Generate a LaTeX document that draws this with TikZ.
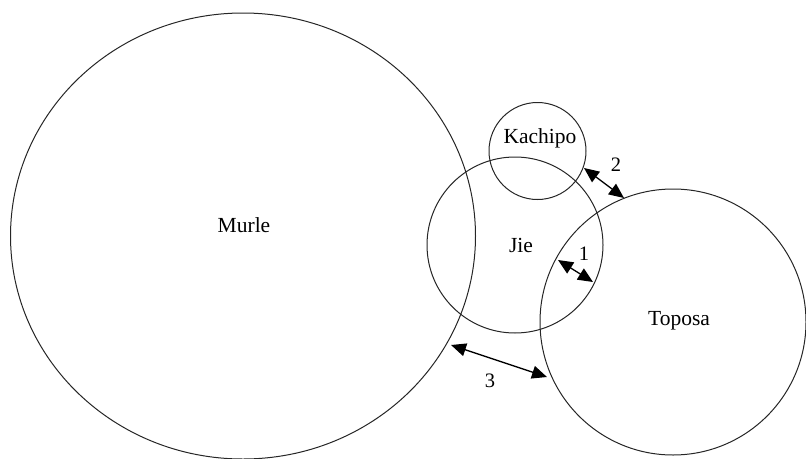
\documentclass[tikz,border=0pt]{standalone}
\usepackage{fontspec}
\setmainfont{Liberation Serif}
\usetikzlibrary{arrows.meta,shapes.geometric}
\begin{document}
\begin{tikzpicture}[x=1pt,y=-1pt,
  ring/.style={circle,draw=black!85,line width=1pt,inner sep=0pt},
  lbl/.style={font=\fontsize{21.5}{24}\selectfont,inner sep=0pt},
  num/.style={font=\fontsize{20.5}{24}\selectfont,inner sep=0pt},
  link/.style={line width=1.3pt,{Triangle[length=15pt,width=13pt]}-{Triangle[length=15pt,width=13pt]}}]
\useasboundingbox (0,0) rectangle (806,458);
% circles
\node[ellipse,draw=black!85,line width=1pt,inner sep=0pt,minimum width=465pt,minimum height=446pt] (murle) at (243,236) {};
\node[ring,minimum size=97pt] (kachipo) at (537.5,151) {};
\node[ring,minimum size=176pt] (jie) at (515,245) {};
\node[ring,minimum size=266pt] (toposa) at (673,322) {};
% labels
\node[lbl] (tmurle) at (244,225) {Murle};
\node[lbl] (tkachipo) at (540,138) {Kachipo};
\node[lbl] (tjie) at (521,245) {Jie};
\node[lbl] (ttoposa) at (679,321) {Toposa};
\node[num] (n1) at (584,254) {1};
\node[num] (n2) at (616,165) {2};
\node[num] (n3) at (490,381) {3};
% connector end points on circle boundaries
\coordinate (a2) at (584,168);
\coordinate (b2) at (624,198);
\coordinate (a1) at (558,260);
\coordinate (b1) at (593,282);
\coordinate (a3) at (451,345);
\coordinate (b3) at (547,377);
\draw[link] (a2) -- (b2);
\draw[link] (a1) -- (b1);
\draw[link] (a3) -- (b3);
\end{tikzpicture}
\end{document}
